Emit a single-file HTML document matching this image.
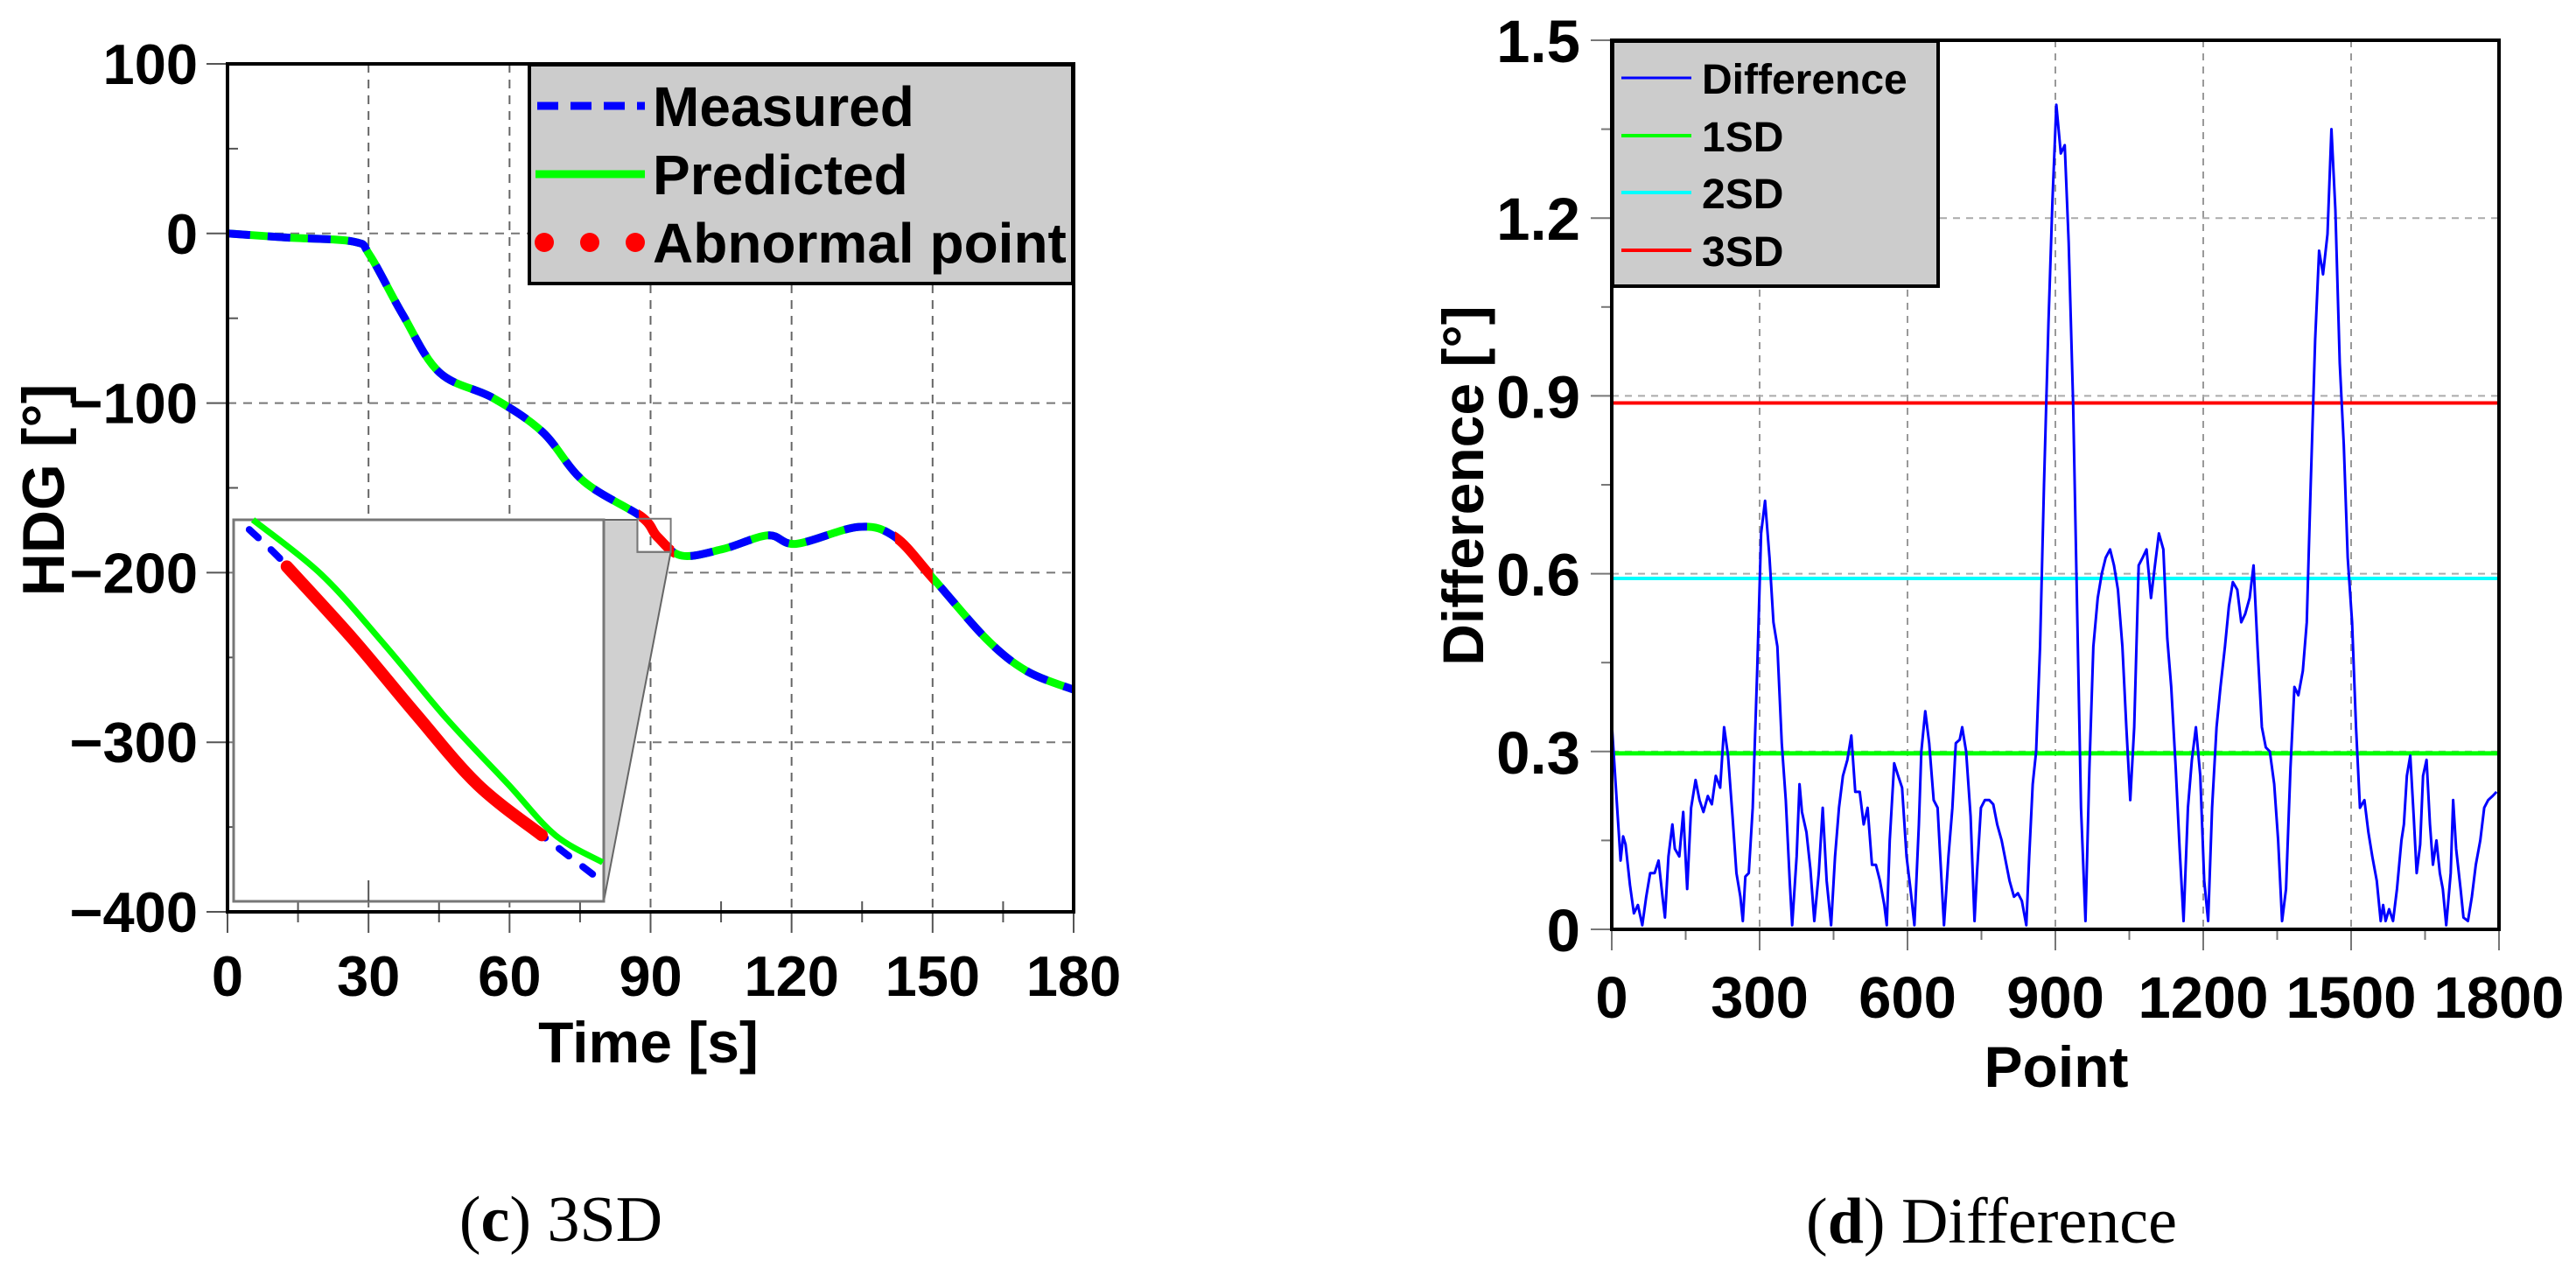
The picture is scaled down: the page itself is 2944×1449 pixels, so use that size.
<!DOCTYPE html>
<html><head><meta charset="utf-8"><style>
html,body{margin:0;padding:0;background:#fff;}
svg{display:block;font-family:"Liberation Sans",sans-serif;}
</style></head><body>
<svg id="fig" width="2944" height="1449" viewBox="0 0 2944 1449">
<g id="left"></g>
<g id="right"></g>
</svg>
<script>
// ---------- Left chart data (HDG) ----------
const hdgTime = [0,12.8,26.8,30.3,37.3,45.1,56.5,67,75.7,88,91.5,96.7,105.5,115,121,134.3,142,150,161.4,170,180];
const hdgValue = [0,-2.4,-4.8,-13,-48,-82,-97,-117,-146,-167,-179,-190,-186,-178,-183,-173,-179,-203,-239,-258,-269];
const abnormalRanges = [[87.5,95],[142,150]];
const hdgXTicks = [0,30,60,90,120,150,180];
const hdgYTicks = [100,0,-100,-200,-300,-400];
const hdgXTickLabels = ["0","30","60","90","120","150","180"];
const hdgYTickLabels = ["100","0","\u2212100","\u2212200","\u2212300","\u2212400"];
// inset (zoomed region)
const insetPredT = [87.57,88.88,90.09,91.28,92.47,93.37,94.28];
const insetPredV = [-168.2,-171.0,-174.6,-178.4,-181.8,-184.4,-185.8];
const insetMeasT = [87.5,88.2,89.48,90.67,91.88,93.11,93.4,94.28];
const insetMeasV = [-168.7,-170.5,-174.3,-178.1,-181.8,-184.4,-185.0,-186.8];
const insetAbnT = [88.22,89.48,90.67,91.88,93.11];
const insetAbnV = [-170.6,-174.3,-178.1,-181.8,-184.4];

// ---------- Right chart data (Difference) ----------
const diffPoint = [0,12,18,23,28,37,45,53,62,70,78,87,95,103,108,115,123,128,137,145,153,161,170,178,186,195,203,211,220,228,236,245,253,261,266,271,278,286,295,303,311,320,328,336,345,353,361,366,375,381,386,395,403,411,420,428,436,445,453,461,469,478,486,494,503,511,519,528,536,544,553,558,564,573,581,589,598,606,614,623,628,636,644,653,661,669,674,683,691,698,706,711,719,728,736,741,749,757,766,774,782,791,799,807,816,824,832,841,847,854,861,869,877,886,894,902,911,919,927,936,944,952,961,969,977,986,994,1002,1011,1019,1027,1036,1044,1052,1060,1069,1077,1085,1094,1102,1110,1119,1127,1135,1144,1152,1160,1169,1177,1185,1194,1202,1210,1218,1227,1235,1244,1252,1260,1269,1277,1285,1294,1302,1310,1319,1327,1335,1344,1352,1360,1368,1377,1385,1393,1402,1410,1418,1427,1435,1443,1452,1460,1468,1477,1485,1493,1502,1510,1518,1527,1535,1543,1552,1560,1565,1570,1577,1585,1593,1602,1607,1613,1620,1627,1633,1640,1646,1653,1660,1666,1673,1680,1686,1693,1702,1707,1713,1722,1728,1737,1745,1753,1762,1770,1778,1787,1795];
const diffValue = [0.348,0.191,0.116,0.157,0.143,0.075,0.027,0.041,0.007,0.055,0.095,0.095,0.116,0.055,0.020,0.123,0.177,0.136,0.123,0.198,0.068,0.205,0.252,0.218,0.198,0.225,0.211,0.259,0.239,0.341,0.293,0.191,0.095,0.055,0.014,0.089,0.095,0.205,0.436,0.668,0.723,0.627,0.518,0.477,0.314,0.218,0.082,0.007,0.123,0.245,0.198,0.164,0.102,0.014,0.095,0.205,0.082,0.007,0.123,0.205,0.259,0.286,0.327,0.232,0.232,0.177,0.205,0.109,0.109,0.082,0.041,0.007,0.150,0.280,0.259,0.239,0.123,0.068,0.007,0.177,0.300,0.368,0.314,0.218,0.205,0.082,0.007,0.123,0.205,0.314,0.320,0.341,0.300,0.191,0.014,0.095,0.205,0.218,0.218,0.211,0.177,0.150,0.116,0.082,0.055,0.061,0.048,0.007,0.123,0.245,0.300,0.477,0.750,1.023,1.227,1.391,1.309,1.323,1.159,0.886,0.545,0.205,0.014,0.273,0.477,0.559,0.600,0.627,0.641,0.614,0.573,0.477,0.341,0.218,0.341,0.614,0.627,0.641,0.559,0.614,0.668,0.641,0.491,0.409,0.273,0.136,0.014,0.205,0.286,0.341,0.259,0.082,0.014,0.205,0.341,0.409,0.477,0.545,0.586,0.573,0.518,0.532,0.559,0.614,0.477,0.341,0.307,0.300,0.245,0.150,0.014,0.068,0.273,0.409,0.395,0.436,0.518,0.750,0.995,1.145,1.105,1.173,1.350,1.214,0.955,0.818,0.627,0.518,0.341,0.205,0.218,0.164,0.123,0.082,0.014,0.041,0.014,0.034,0.014,0.068,0.150,0.177,0.259,0.293,0.191,0.095,0.143,0.259,0.286,0.177,0.109,0.150,0.095,0.068,0.007,0.095,0.218,0.136,0.068,0.020,0.014,0.055,0.109,0.150,0.205,0.218,0.225,0.232];
const sdNames = ["1SD","2SD","3SD"];
const sdValues = [0.297,0.592,0.888];
const diffXTicks = [0,300,600,900,1200,1500,1800];
const diffYTicks = [0,0.3,0.6,0.9,1.2,1.5];
const diffXTickLabels = ["0","300","600","900","1200","1500","1800"];
const diffYTickLabels = ["0","0.3","0.6","0.9","1.2","1.5"];

const NS="http://www.w3.org/2000/svg";
function mk(parent,tag,attrs,text){const e=document.createElementNS(NS,tag);for(const k in attrs)e.setAttribute(k,attrs[k]);if(text!==undefined)e.textContent=text;parent.appendChild(e);return e;}

// ===== LEFT =====
const L=document.getElementById('left');
const lx0=260,lx1=1227,ly0=73,ly1=1042;
const lxs=t=>lx0+(t-0)/(180)*(lx1-lx0);
const lys=v=>ly0+(100-v)/500*(ly1-ly0);
// grid
for(const t of hdgXTicks){ if(t===0||t===180)continue;
  const g=mk(L,'line',{x1:lxs(t),x2:lxs(t),y1:ly0,y2:ly1,stroke:'#666','stroke-width':2,'stroke-dasharray':'10,8'});
  
  }
for(const v of hdgYTicks){ if(v===100||v===-400)continue;
  const g=mk(L,'line',{x1:lx0,x2:lx1,y1:lys(v),y2:lys(v),stroke:'#777','stroke-width':2,'stroke-dasharray':'10,8'});
  
  }
// ticks
for(let t=0;t<=180;t+=15){const maj=t%30===0;
  mk(L,'line',{x1:lxs(t),x2:lxs(t),y1:ly1,y2:ly1+(maj?24:12),stroke:'#555','stroke-width':2});
  mk(L,'line',{x1:lxs(t),x2:lxs(t),y1:ly1,y2:ly1-(maj?0:12),stroke:'#555','stroke-width':2});}
for(let v=100;v>=-400;v-=50){const maj=v%100===0;
  mk(L,'line',{x1:lx0-(maj?24:0),x2:lx0+(maj?0:12),y1:lys(v),y2:lys(v),stroke:'#555','stroke-width':2});}
// curve
function pathFrom(ts,vs,xs,ys){return ts.map((t,i)=>(i?'L':'M')+xs(t).toFixed(1)+','+ys(vs[i]).toFixed(1)).join(' ');}
function smoothFrom(ts,vs,xs,ys){const p=ts.map((t,i)=>[xs(t),ys(vs[i])]);let d='M'+p[0][0]+','+p[0][1];
  for(let i=0;i<p.length-1;i++){const p0=p[Math.max(0,i-1)],p1=p[i],p2=p[i+1],p3=p[Math.min(p.length-1,i+2)];
    const c1=[p1[0]+(p2[0]-p0[0])/6,p1[1]+(p2[1]-p0[1])/6],c2=[p2[0]-(p3[0]-p1[0])/6,p2[1]-(p3[1]-p1[1])/6];
    d+=` C${c1[0].toFixed(1)},${c1[1].toFixed(1)} ${c2[0].toFixed(1)},${c2[1].toFixed(1)} ${p2[0].toFixed(1)},${p2[1].toFixed(1)}`;}return d;}
const dMain=smoothFrom(hdgTime,hdgValue,lxs,lys);
const pred=mk(L,'path',{d:dMain,fill:'none',stroke:'#00ff00','stroke-width':9});


const meas=mk(L,'path',{d:dMain,fill:'none',stroke:'#0000ff','stroke-width':9,'stroke-dasharray':'26,20'});


// abnormal segments
const cp=mk(L,'clipPath',{id:'abclip'});
for(const r of abnormalRanges){mk(cp,'rect',{x:lxs(r[0]),y:0,width:lxs(r[1])-lxs(r[0]),height:1449});}
const ab=mk(L,'path',{d:dMain,fill:'none',stroke:'#ff0000','stroke-width':11,'clip-path':'url(#abclip)'});


// inset
const iT0=87.2,iT1=94.3,iV0=-168.2,iV1=-187.8;
const ix0=267,ix1=690,iy0=594,iy1=1030;
const ixs=t=>ix0+(t-iT0)/(iT1-iT0)*(ix1-ix0);
const iys=v=>iy0+(iV0-v)/(iV0-iV1)*(iy1-iy0);
const conn=mk(L,'polygon',{points:`${ix1},${iy0} ${lxs(iT0)},${iy0} ${lxs(iT0)},${lys(iV1)} ${lxs(iT1)},${lys(iV1)} ${ix1},${iy1}`,fill:'#d0d0d0',stroke:'#666','stroke-width':2});


const zr=mk(L,'rect',{x:lxs(iT0),y:lys(iV0),width:lxs(iT1)-lxs(iT0),height:lys(iV1)-lys(iV0),fill:'none',stroke:'#777','stroke-width':2});


const ib=mk(L,'rect',{x:ix0,y:iy0,width:ix1-ix0,height:iy1-iy0,fill:'#fff',stroke:'#777','stroke-width':3});


mk(L,'line',{x1:lxs(30),x2:lxs(30),y1:iy1-24,y2:iy1,stroke:'#555','stroke-width':2});
const ip=mk(L,'path',{d:smoothFrom(insetPredT,insetPredV,ixs,iys),fill:'none',stroke:'#00ff00','stroke-width':7});


const im=mk(L,'path',{d:smoothFrom(insetMeasT,insetMeasV,ixs,iys),fill:'none',stroke:'#0000ff','stroke-width':8,'stroke-dasharray':'14,20','stroke-linecap':'round'});


const ia=mk(L,'path',{d:smoothFrom(insetAbnT,insetAbnV,ixs,iys),fill:'none',stroke:'#ff0000','stroke-width':14,'stroke-linecap':'round'});


// frame
const lf=mk(L,'rect',{x:lx0,y:ly0,width:lx1-lx0,height:ly1-ly0,fill:'none',stroke:'#000','stroke-width':4});


// legend
const lg=mk(L,'g',{});


mk(lg,'rect',{x:605,y:74,width:621,height:250,fill:'#cccccc',stroke:'#000','stroke-width':4});
const le1=mk(lg,'g',{});
mk(le1,'line',{x1:614,x2:737,y1:121,y2:121,stroke:'#0000ff','stroke-width':9,'stroke-dasharray':'24,14'});
mk(le1,'text',{x:746,y:144,'font-size':64,'font-weight':'bold'},'Measured');
const le2=mk(lg,'g',{});
mk(le2,'line',{x1:612,x2:737,y1:199,y2:199,stroke:'#00ff00','stroke-width':9});
mk(le2,'text',{x:746,y:222,'font-size':64,'font-weight':'bold'},'Predicted');
const le3=mk(lg,'g',{});
for(const cx of [622,674,726])mk(le3,'circle',{cx:cx,cy:277,r:11,fill:'#ff0000'});
mk(le3,'text',{x:746,y:300,'font-size':64,'font-weight':'bold'},'Abnormal point');
// tick labels
hdgXTicks.forEach((t,i)=>{const e=mk(L,'text',{x:lxs(t),y:1138,'font-size':65,'font-weight':'bold','text-anchor':'middle'},hdgXTickLabels[i]);
  });
hdgYTicks.forEach((v,i)=>{const e=mk(L,'text',{x:226,y:lys(v)+23,'font-size':65,'font-weight':'bold','text-anchor':'end'},hdgYTickLabels[i]);
  });
const lxt=mk(L,'text',{x:741,y:1214,'font-size':66,'font-weight':'bold','text-anchor':'middle'},'Time [s]');

const lyt=mk(L,'text',{x:0,y:0,'font-size':68,'font-weight':'bold','text-anchor':'middle',transform:'translate(73,560) rotate(-90)'},'HDG [°]');

const lc=mk(L,'text',{x:641,y:1418,'font-size':74,'text-anchor':'middle','font-family':'"Liberation Serif",serif'});

lc.innerHTML='(<tspan font-weight="bold">c</tspan>) 3SD';

// ===== RIGHT =====
const R=document.getElementById('right');
const rx0=1842,rx1=2856,ry0=46,ry1=1062;
const rxs=p=>rx0+p/1800*(rx1-rx0);
const rys=v=>ry1-v/1.5*(ry1-ry0);
diffXTicks.forEach(p=>{if(p===0||p===1800)return;
  const g=mk(R,'line',{x1:rxs(p),x2:rxs(p),y1:ry0,y2:ry1,stroke:'#999','stroke-width':2,'stroke-dasharray':'8,7'});
  });
diffYTicks.forEach(v=>{if(v===0||v===1.5)return;
  const g=mk(R,'line',{x1:rx0,x2:rx1,y1:rys(v),y2:rys(v),stroke:'#aaa','stroke-width':2,'stroke-dasharray':'8,7'});
  });
for(let p=0;p<=1800;p+=150){const maj=p%300===0;
  mk(R,'line',{x1:rxs(p),x2:rxs(p),y1:ry1,y2:ry1+(maj?24:12),stroke:'#777','stroke-width':2});}
for(let v=0;v<=1.5001;v+=0.15){const maj=Math.round(v*100)%30===0;
  mk(R,'line',{x1:rx0-(maj?24:0),x2:rx0+(maj?0:0),y1:rys(v),y2:rys(v),stroke:'#777','stroke-width':2});
  if(!maj)mk(R,'line',{x1:rx0-12,x2:rx0,y1:rys(v),y2:rys(v),stroke:'#777','stroke-width':2});}
const sdColors=['#00ff00','#00ffff','#ff0000'];
sdValues.forEach((v,i)=>{const e=mk(R,'line',{x1:rx0,x2:rx1,y1:rys(v),y2:rys(v),stroke:sdColors[i],'stroke-width':i===0?5:4});
  });
const dl=mk(R,'path',{d:pathFrom(diffPoint,diffValue,rxs,rys),fill:'none',stroke:'#0000ff','stroke-width':3,'stroke-linejoin':'round'});

const rf=mk(R,'path',{d:`M${rx0},${ry0} H${rx1} V${ry1} H${rx0} Z`,fill:'none',stroke:'#000','stroke-width':4});

const rg=mk(R,'g',{});

mk(rg,'rect',{x:1843,y:47,width:372,height:280,fill:'#cccccc',stroke:'#000','stroke-width':4});
const legNames=['Difference'].concat(sdNames), legCols=['#0000ff'].concat(sdColors), legY=[89,155,220,286];
legNames.forEach((n,i)=>{const g=mk(rg,'g',{});
  
  mk(g,'line',{x1:1853,x2:1933,y1:legY[i],y2:legY[i],stroke:legCols[i],'stroke-width':i===0?3:4});
  mk(g,'text',{x:1945,y:legY[i]+18,'font-size':48,'font-weight':'bold'},n);});
diffXTicks.forEach((p,i)=>{const e=mk(R,'text',{x:rxs(p),y:1163,'font-size':67,'font-weight':'bold','text-anchor':'middle'},diffXTickLabels[i]);
  });
diffYTicks.forEach((v,i)=>{const e=mk(R,'text',{x:1806,y:rys(v)+25,'font-size':69,'font-weight':'bold','text-anchor':'end'},diffYTickLabels[i]);
  });
const rxt=mk(R,'text',{x:2350,y:1242,'font-size':66,'font-weight':'bold','text-anchor':'middle'},'Point');

const ryt=mk(R,'text',{x:0,y:0,'font-size':66,'font-weight':'bold','text-anchor':'middle',transform:'translate(1695,555) rotate(-90)'},'Difference [°]');

const rc=mk(R,'text',{x:2276,y:1420,'font-size':74,'text-anchor':'middle','font-family':'"Liberation Serif",serif'});

rc.innerHTML='(<tspan font-weight="bold">d</tspan>) Difference';
</script>
</body></html>
